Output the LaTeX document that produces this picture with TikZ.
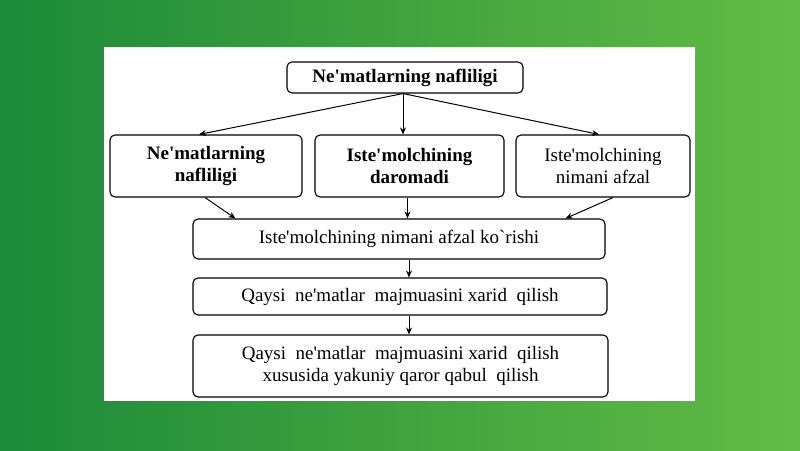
\documentclass[tikz,border=0pt]{standalone}
\usepackage{fontspec}
\setmainfont{Liberation Serif}[Ligatures=TeXOff]
\usetikzlibrary{arrows.meta,calc}
\definecolor{gdark}{RGB}{28,138,56}
\definecolor{glight}{RGB}{98,188,68}
\begin{document}
\begin{tikzpicture}[x=1pt,y=-1pt,
  box/.style={draw=black,line width=1.1pt,rounded corners=5pt,fill=white,align=center,inner sep=0pt,
    font=\fontsize{19}{22}\selectfont},
  bbox/.style={box,font=\fontsize{19}{22}\selectfont\bfseries},
  arr/.style={-{Stealth[length=7pt,width=6pt]},line width=1pt}]
\useasboundingbox (0,0) rectangle (800,450);
\shade[left color=gdark,right color=glight] (0,0) rectangle (800,450);
\fill[white] (104,47) rectangle (695,401);
\node[bbox,minimum width=236pt,minimum height=31pt] (top) at (405,77.5) {Ne'matlarning nafliligi};
\node[bbox,minimum width=192pt,minimum height=62pt] (L) at (206,166) {Ne'matlarning\\nafliligi};
\node[bbox,minimum width=189pt,minimum height=62pt] (M) at (409.5,166) {Iste'molchining\\daromadi};
\node[box,minimum width=174pt,minimum height=62pt] (R) at (603,166) {Iste'molchining\\nimani afzal};
\node[box,minimum width=412pt,minimum height=40pt] (B4) at (399,239) {Iste'molchining nimani afzal ko`rishi};
\node[box,minimum width=414pt,minimum height=37pt] (B5) at (400,296.5) {Qaysi\ \ ne'matlar\ \ majmuasini xarid\ \ qilish};
\node[box,minimum width=415pt,minimum height=62pt] (B6) at (400.5,366) {Qaysi\ \ ne'matlar\ \ majmuasini xarid\ \ qilish\\xususida yakuniy qaror qabul\ \ qilish};
\coordinate (s) at ($(top.south)+(-2,0)$);
\draw[arr] (s) -- ([xshift=-7pt]L.north);
\draw[arr] (s) -- (s |- M.north);
\draw[arr] (s) -- ([xshift=-4pt]R.north);
\draw[arr] ([xshift=-1pt]L.south) -- ([xshift=43pt]B4.north west);
\draw[arr] ([xshift=-2pt]M.south) -- ([xshift=-2pt]M.south |- B4.north);
\draw[arr] ([xshift=10pt]R.south) -- ([xshift=-40pt]B4.north east);
\draw[arr] ([xshift=10pt]B4.south) -- ([xshift=10pt]B4.south |- B5.north);
\draw[arr] ([xshift=10pt]B4.south |- B5.south) -- ([xshift=10pt]B4.south |- B6.north);
\end{tikzpicture}
\end{document}
